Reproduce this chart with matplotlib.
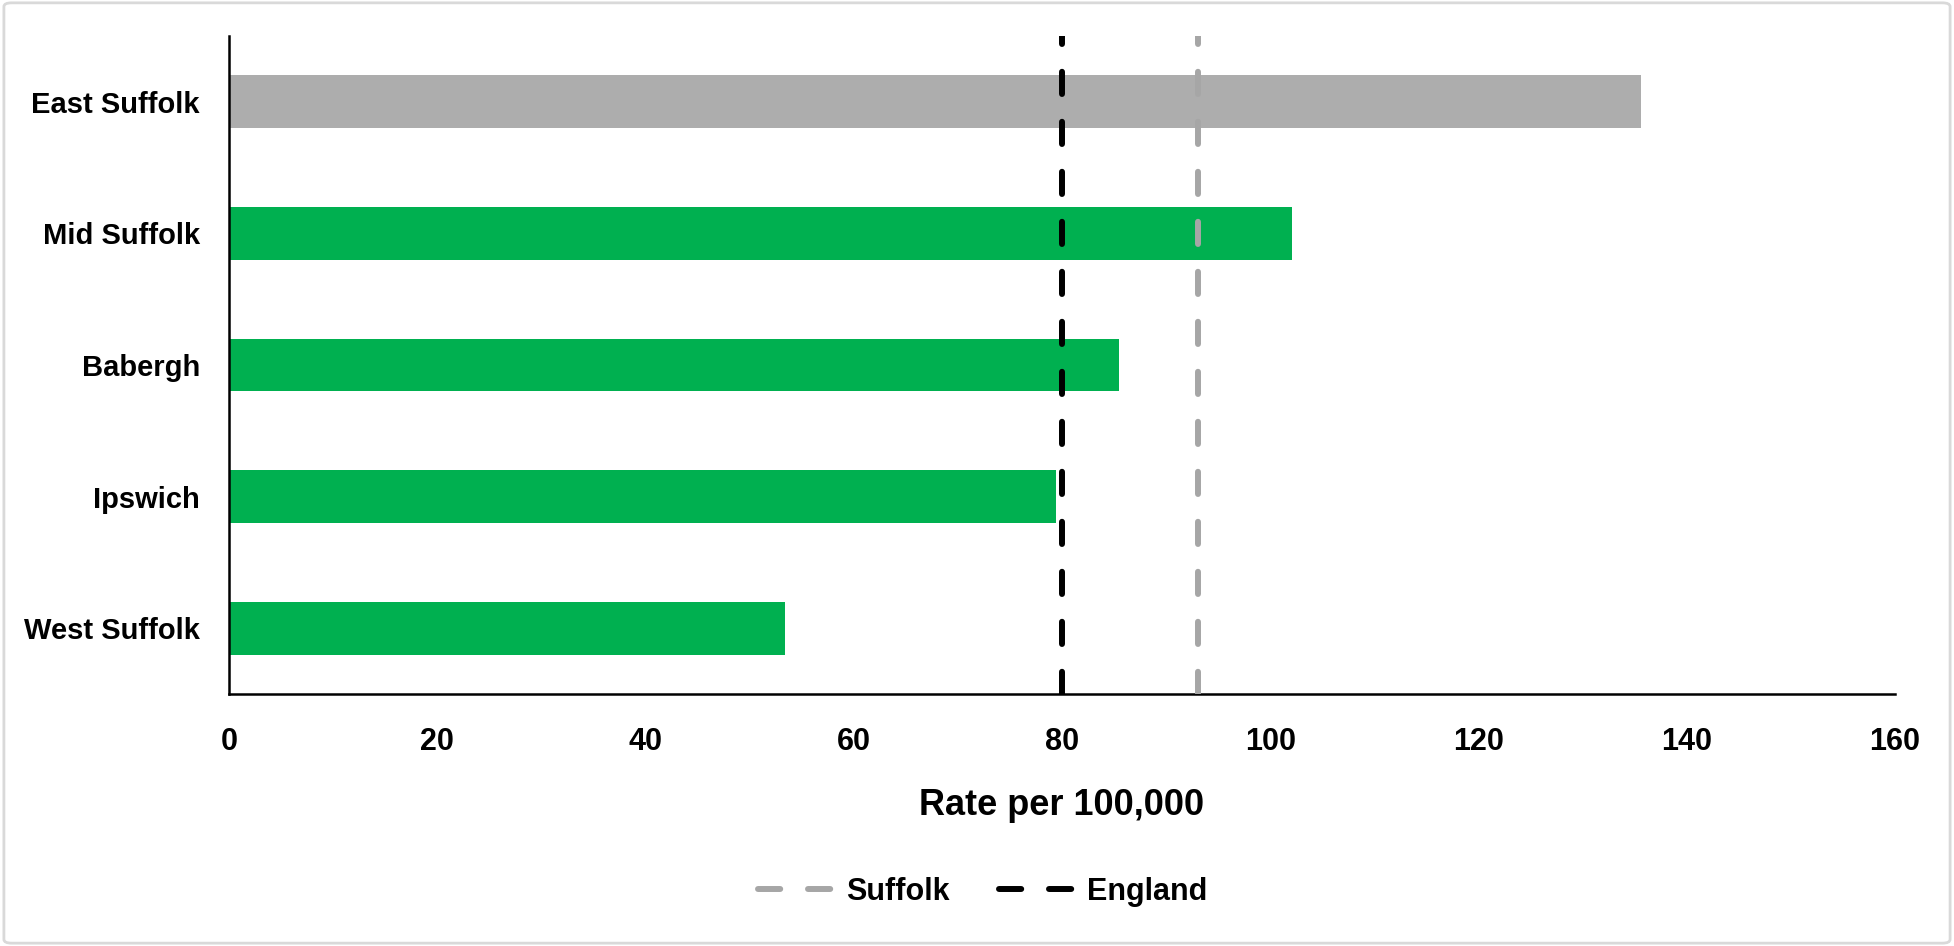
import matplotlib
matplotlib.use("Agg")
import matplotlib.pyplot as plt
from matplotlib.patches import FancyBboxPatch
from matplotlib.lines import Line2D

plt.rcParams['font.family'] = ['Liberation Sans', 'DejaVu Sans']
plt.rcParams['lines.scale_dashes'] = False

# Data
districts = ["East Suffolk", "Mid Suffolk", "Babergh", "Ipswich", "West Suffolk"]
rates = [135.6, 102.1, 85.5, 79.4, 53.4]
bar_colors = ["#ADADAD", "#00B050", "#00B050", "#00B050", "#00B050"]
suffolk_rate = 93.1
england_rate = 80.0
x_ticks = [0, 20, 40, 60, 80, 100, 120, 140, 160]

fig = plt.figure(figsize=(19.54, 9.46), dpi=100)
ax = fig.add_axes([229/1954, 1 - 694/946, (1895-229)/1954, (694-36)/946])

ypos = list(range(len(districts)))
ax.barh(ypos, rates, height=0.4, color=bar_colors, zorder=2)
ax.set_ylim(len(districts) - 0.5, -0.5)
ax.set_xlim(0, 160)

dash = (16, 20)
ax.axvline(suffolk_rate, color="#A6A6A6", lw=4.3, dashes=dash,
           dash_capstyle='round', zorder=3)
ax.axvline(england_rate, color="#000000", lw=4.3, dashes=dash,
           dash_capstyle='round', zorder=4)

ax.set_yticks(ypos)
ax.set_yticklabels(districts, fontsize=21, fontweight='bold')
ax.set_xticks(x_ticks)
ax.set_xticklabels([str(t) for t in x_ticks], fontsize=22, fontweight='bold')
ax.tick_params(axis='both', length=0)
ax.tick_params(axis='x', pad=24)
ax.tick_params(axis='y', pad=21)

ax.set_xlabel("Rate per 100,000", fontsize=26, fontweight='bold', labelpad=22)

for s in ['top', 'right']:
    ax.spines[s].set_visible(False)
for s in ['left', 'bottom']:
    ax.spines[s].set_linewidth(1.8)
    ax.spines[s].set_color('black')

handles = [
    Line2D([0], [0], color="#A6A6A6", lw=4.3, dashes=(16, 20), dash_capstyle='round'),
    Line2D([0], [0], color="#000000", lw=4.3, dashes=(16, 20), dash_capstyle='round'),
]
fig.legend(handles, ["Suffolk", "England"], loc='center', bbox_to_anchor=(0.503, 0.057),
           ncol=2, frameon=False, handlelength=2.6, columnspacing=1.6, handletextpad=0.3,
           prop={'size': 22, 'weight': 'bold'})

border = FancyBboxPatch((0.002, 0.003), 0.996, 0.994, boxstyle="round,pad=0,rounding_size=0.004",
                        transform=fig.transFigure, facecolor='none', edgecolor='#D9D9D9', lw=2)
fig.patches.append(border)

fig.savefig("out.png", dpi=100)
